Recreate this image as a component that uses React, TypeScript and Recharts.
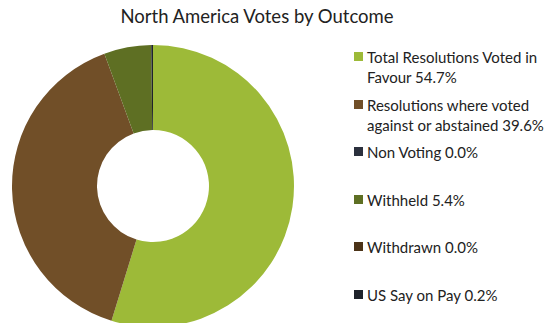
import { PieChart, Pie, Cell, Legend } from "recharts";

const outcomes = [
  "Total Resolutions Voted in Favour",
  "Resolutions where voted against or abstained",
  "Non Voting",
  "Withheld",
  "Withdrawn",
  "US Say on Pay",
];
const shares = [54.7, 39.6, 0.0, 5.4, 0.0, 0.2];
const colors = ["#9DBA38", "#714F28", "#2B303D", "#5E6F23", "#4B3318", "#1F232B"];

const data = outcomes.map((name, i) => ({ name, value: shares[i] }));

const FONT = "Lato, 'Open Sans', sans-serif";

function VoteLegend() {
  return (
    <div style={{ fontFamily: FONT, fontSize: 15, color: "#222", width: 200 }}>
      {data.map((d, i) => (
        <div key={d.name} style={{ height: 47.6, position: "relative" }}>
          <span
            style={{
              position: "absolute",
              left: 0,
              top: 5,
              width: 9,
              height: 9,
              background: colors[i],
            }}
          />
          <div style={{ marginLeft: 13, lineHeight: "20px", width: 186 }}>
            {`${d.name} ${d.value.toFixed(1)}%`}
          </div>
        </div>
      ))}
    </div>
  );
}

export default function App() {
  return (
    <div style={{ position: "absolute", left: 0, top: 0, width: 553, height: 323, background: "#fff" }}>
      <div
        style={{
          position: "absolute",
          left: 0,
          top: 5,
          width: 514,
          textAlign: "center",
          fontFamily: FONT,
          fontSize: 18.5,
          color: "#222",
          zIndex: 1,
        }}
      >
        North America Votes by Outcome
      </div>
      <PieChart width={553} height={323} margin={{ top: 0, right: 0, bottom: 0, left: 0 }}>
        <Pie
          data={data}
          dataKey="value"
          nameKey="name"
          cx={153}
          cy={186}
          innerRadius={56}
          outerRadius={141}
          startAngle={90}
          endAngle={-270}
          stroke="none"
          isAnimationActive={false}
        >
          {data.map((d, i) => (
            <Cell key={d.name} fill={colors[i]} />
          ))}
        </Pie>
        <Legend
          layout="vertical"
          content={() => <VoteLegend />}
          wrapperStyle={{ left: 354, top: 47, width: 200 }}
        />
      </PieChart>
    </div>
  );
}
